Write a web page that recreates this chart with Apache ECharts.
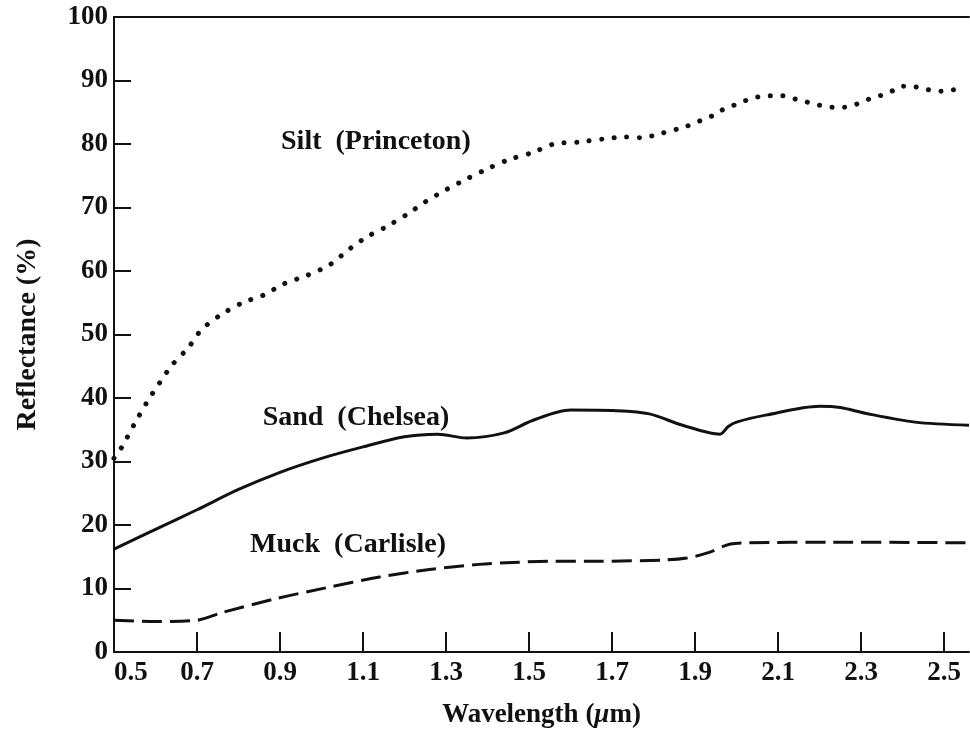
<!DOCTYPE html>
<html>
<head>
<meta charset="utf-8">
<script src="https://cdn.jsdelivr.net/npm/echarts@6/dist/echarts.min.js"></script>
<style>
  html, body { margin: 0; padding: 0; background: #fff; }
  #chart { width: 970px; height: 729px; }
</style>
</head>
<body>
<div id="chart"></div>
<script>
// wavelength (um) / reflectance (%)
var siltX = [0.5, 0.52, 0.55, 0.58, 0.61, 0.64, 0.68, 0.71, 0.755, 0.81, 0.86, 0.91, 0.965, 1.02, 1.07, 1.11, 1.16, 1.21, 1.25, 1.30, 1.35, 1.40, 1.45, 1.51, 1.56, 1.62, 1.68, 1.73, 1.77, 1.82, 1.88, 1.91, 1.94, 1.96, 1.99, 2.02, 2.05, 2.08, 2.11, 2.14, 2.17, 2.20, 2.23, 2.26, 2.29, 2.32, 2.35, 2.38, 2.40, 2.43, 2.45, 2.49, 2.52, 2.55];
var siltY = [30.5, 32.4, 36.0, 39.4, 42.4, 45.2, 48.0, 50.7, 53.0, 55.0, 56.2, 58.0, 59.3, 61.0, 63.6, 65.4, 67.1, 69.1, 70.9, 72.8, 74.5, 76.1, 77.5, 78.7, 80.0, 80.3, 80.8, 81.1, 81.0, 81.7, 82.8, 83.6, 84.4, 85.2, 86.0, 86.8, 87.4, 87.6, 87.6, 87.1, 86.6, 86.1, 85.8, 85.8, 86.3, 87.1, 87.7, 88.5, 89.1, 89.0, 88.7, 88.3, 88.5, 89.0];

var sandX = [0.5, 0.6, 0.7, 0.8, 0.9, 1.0, 1.1, 1.2, 1.28, 1.35, 1.44, 1.51, 1.6, 1.71, 1.79, 1.87, 1.96, 1.98, 2.0, 2.07, 2.2, 2.25, 2.31, 2.43, 2.56];
var sandY = [16.2, 19.3, 22.4, 25.6, 28.3, 30.5, 32.3, 33.9, 34.3, 33.7, 34.5, 36.5, 38.1, 38.0, 37.5, 35.7, 34.3, 35.5, 36.2, 37.3, 38.7, 38.5, 37.6, 36.2, 35.7];

var muckX = [0.5, 0.6, 0.7, 0.76, 0.89, 1.01, 1.14, 1.26, 1.38, 1.46, 1.55, 1.67, 1.83, 1.88, 1.93, 1.985, 2.03, 2.23, 2.56];
var muckY = [5.0, 4.8, 5.0, 6.2, 8.4, 10.1, 11.8, 13.0, 13.8, 14.1, 14.3, 14.3, 14.5, 14.8, 15.6, 17.0, 17.2, 17.3, 17.2];

var xTicks = [0.5, 0.7, 0.9, 1.1, 1.3, 1.5, 1.7, 1.9, 2.1, 2.3, 2.5];
var curveNames = ['Silt  (Princeton)', 'Sand  (Chelsea)', 'Muck  (Carlisle)'];
var labelAt = [[1.131, 80.3], [1.083, 36.9], [1.064, 16.9]];

function zip(xs, ys) {
    return xs.map(function (x, i) { return [x, ys[i]]; });
}

var ink = '#111111';
var serif = '"Liberation Serif", "DejaVu Serif", serif';

var chart = echarts.init(document.getElementById('chart'));

function curve(i, data, lineStyle) {
    return {
        name: curveNames[i],
        type: 'line',
        data: data,
        symbol: 'none',
        smooth: 0.3,
        lineStyle: lineStyle,
        silent: true,
        markPoint: {
            symbol: 'circle',
            symbolSize: 0,
            silent: true,
            label: {
                show: true,
                position: 'inside',
                formatter: curveNames[i],
                color: ink,
                fontFamily: serif,
                fontWeight: 'bold',
                fontSize: 28
            },
            data: [{ coord: labelAt[i] }]
        }
    };
}

var option = {
    backgroundColor: '#ffffff',
    animation: false,
    grid: { left: 114, right: 1, top: 17, bottom: 77, outerBoundsMode: 'none', containLabel: false },
    xAxis: [{
        type: 'value',
        min: 0.5,
        max: 2.56,
        name: '{a|Wavelength (}{b|\u03bc}{a|m)}',
        nameLocation: 'middle',
        nameGap: 50,
        nameTextStyle: {
            rich: {
                a: { fontFamily: serif, fontWeight: 'bold', fontSize: 27, color: ink },
                b: { fontFamily: serif, fontWeight: 'bold', fontStyle: 'italic', fontSize: 27, color: ink }
            }
        },
        axisLine: { show: true, onZero: false, lineStyle: { color: ink, width: 2 } },
        axisTick: { show: true, inside: true, length: 20, customValues: xTicks, lineStyle: { color: ink, width: 2 } },
        axisLabel: {
            customValues: xTicks,
            formatter: function (v) { return v.toFixed(1); },
            alignMinLabel: 'left',
            margin: 8,
            color: ink,
            fontFamily: serif,
            fontWeight: 'bold',
            fontSize: 27
        },
        splitLine: { show: false }
    }, {
        type: 'value',
        position: 'top',
        min: 0.5,
        max: 2.56,
        axisLine: { show: true, onZero: false, lineStyle: { color: ink, width: 2 } },
        axisTick: { show: false },
        axisLabel: { show: false },
        splitLine: { show: false }
    }],
    yAxis: {
        type: 'value',
        min: 0,
        max: 100,
        interval: 10,
        name: 'Reflectance (%)',
        nameLocation: 'middle',
        nameRotate: 90,
        nameGap: 72,
        nameTextStyle: { color: ink, fontFamily: serif, fontWeight: 'bold', fontSize: 28 },
        axisLine: { show: true, lineStyle: { color: ink, width: 2 } },
        axisTick: { show: true, inside: true, length: 17, lineStyle: { color: ink, width: 2 } },
        axisLabel: {
            margin: 6,
            color: ink,
            fontFamily: serif,
            fontWeight: 'bold',
            fontSize: 27
        },
        splitLine: { show: false }
    },
    series: [
        curve(0, zip(siltX, siltY), { color: ink, width: 5, type: [0.1, 12.5], cap: 'round' }),
        curve(1, zip(sandX, sandY), { color: ink, width: 3 }),
        curve(2, zip(muckX, muckY), { color: ink, width: 3, type: [20, 8] })
    ]
};

chart.setOption(option);
</script>
</body>
</html>
